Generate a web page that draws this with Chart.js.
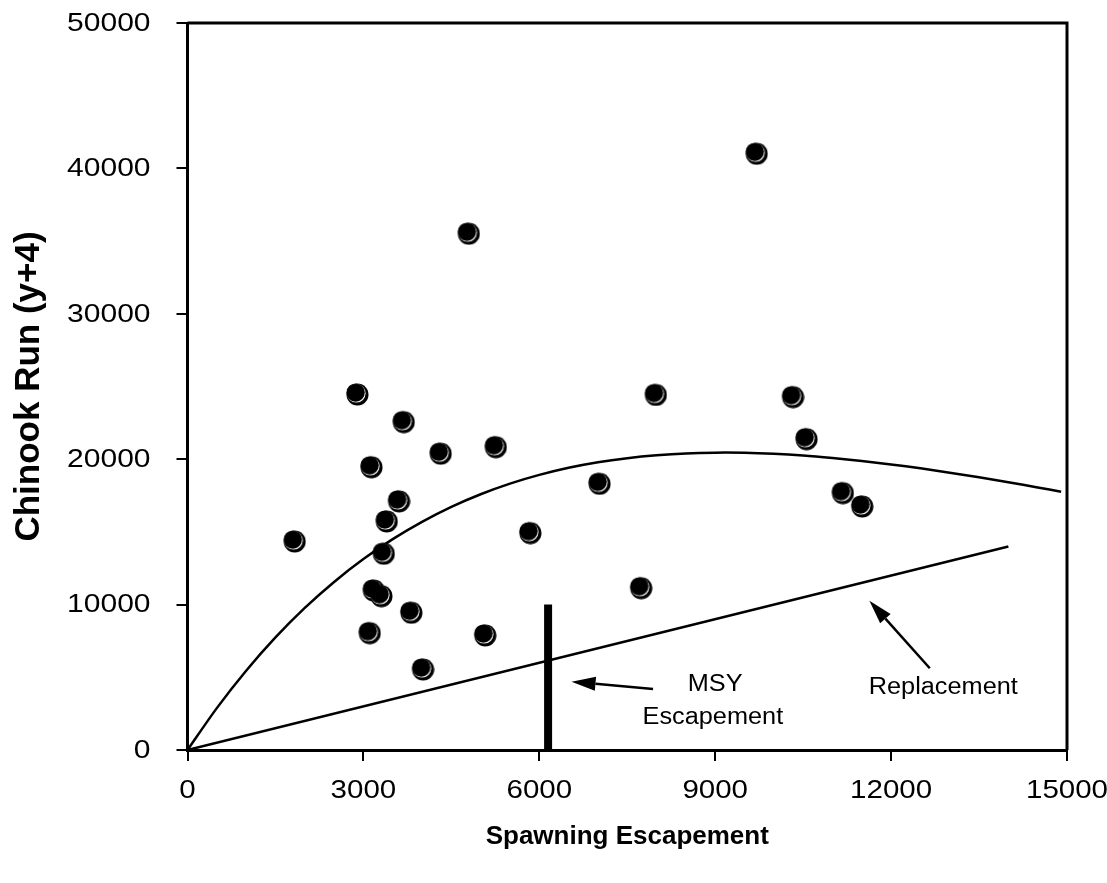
<!DOCTYPE html>
<html>
<head>
<meta charset="utf-8">
<script src="https://cdn.jsdelivr.net/npm/chart.js@4.4.1/dist/chart.umd.min.js"></script>
<style>
  html, body { margin: 0; padding: 0; background: #fff; }
  #wrap { width: 1107px; height: 883px; }
</style>
</head>
<body>
<div id="wrap"><canvas id="srChart" width="1107" height="883"></canvas></div>
<script>
// observed brood years: spawning escapement vs. chinook run four years later
const escapement = [1820, 2890, 3130, 3170, 3300, 3340, 3390, 3600, 3680, 3100, 3810, 4010, 4310,
  4790, 5070, 5250, 5840, 7020, 7730, 7980, 9700, 10320, 10550, 11170, 11500];
const runSize = [14370, 24480, 19480, 11000, 10610, 13530, 15750, 17130, 22580, 8070, 9470, 5570, 20410,
  35540, 7910, 20860, 14950, 18340, 11160, 24450, 41040, 24300, 21410, 17700, 16780];

// fitted recruitment curve
const curveEsc = [0, 500, 1000, 1500, 2000, 2500, 3000, 3500, 4000, 4500, 5000, 5500, 6000, 6500, 7000,
  7500, 8000, 8500, 9000, 9500, 10000, 10500, 11000, 11500, 12000, 12500, 13000, 13500, 14000, 14500, 14900];
const curveRun = [0, 2880, 5450, 7740, 9770, 11560, 13130, 14500, 15690, 16720, 17590, 18320, 18920, 19410, 19790,
  20070, 20270, 20400, 20450, 20440, 20370, 20250, 20080, 19880, 19640, 19370, 19070, 18760, 18410, 18060, 17760];

// replacement line and MSY escapement marker
const replacementEsc = [0, 14000];
const replacementRun = [0, 14000];
const msyEscapement = 6150;
const msyBarTop = 10000;

const xTicks = [0, 3000, 6000, 9000, 12000, 15000];
const yTicks = [0, 10000, 20000, 30000, 40000, 50000];

const toPoints = (xs, ys) => xs.map((x, i) => ({ x: x, y: ys[i] }));

// black ball with a white crescent, like the original symbol
const ball = document.createElement("canvas");
ball.width = 24;
ball.height = 24;
(function () {
  const c = ball.getContext("2d");
  c.fillStyle = "#000";
  c.beginPath(); c.arc(12.5, 12.5, 11, 0, Math.PI * 2); c.fill();
  c.fillStyle = "#fff";
  c.beginPath(); c.arc(11.3, 11.3, 9.3, 0, Math.PI * 2); c.fill();
  c.fillStyle = "#000";
  c.beginPath(); c.arc(10.6, 10.6, 9.2, 0, Math.PI * 2); c.fill();
})();

const notes = [
  { from: [7940, 4200], to: [6550, 4700] },
  { from: [12660, 5620], to: [11630, 10270] }
];
const labels = [
  { text: "MSY", at: [9000, 4470] },
  { text: "Escapement", at: [8960, 2200] },
  { text: "Replacement", at: [12890, 4260] }
];

const FONT = "'Liberation Sans', Arial, sans-serif";

// the original lettering is a little wider than it is tall
function wideText(ctx, text, x, y, size, stretch, align) {
  ctx.save();
  ctx.font = size + "px " + FONT;
  ctx.textAlign = align;
  ctx.textBaseline = "middle";
  ctx.translate(x, y);
  ctx.scale(stretch, 1);
  ctx.fillText(text, 0, 0);
  ctx.restore();
}

const notePlugin = {
  id: "notes",
  afterDatasetsDraw(chart) {
    const { ctx, scales: { x, y }, chartArea } = chart;
    ctx.save();
    // top and right frame
    ctx.strokeStyle = "#000";
    ctx.lineWidth = 3;
    ctx.beginPath();
    ctx.moveTo(chartArea.left, chartArea.top);
    ctx.lineTo(chartArea.right, chartArea.top);
    ctx.lineTo(chartArea.right, chartArea.bottom);
    ctx.stroke();

    ctx.fillStyle = "#000";
    ctx.lineWidth = 2.5;
    notes.forEach(n => {
      const x1 = x.getPixelForValue(n.from[0]), y1 = y.getPixelForValue(n.from[1]);
      const x2 = x.getPixelForValue(n.to[0]), y2 = y.getPixelForValue(n.to[1]);
      const a = Math.atan2(y2 - y1, x2 - x1);
      const len = 24, half = 7;
      const bx = x2 - len * Math.cos(a), by = y2 - len * Math.sin(a);
      ctx.beginPath(); ctx.moveTo(x1, y1); ctx.lineTo(bx, by); ctx.stroke();
      ctx.beginPath();
      ctx.moveTo(x2, y2);
      ctx.lineTo(bx + half * Math.sin(a), by - half * Math.cos(a));
      ctx.lineTo(bx - half * Math.sin(a), by + half * Math.cos(a));
      ctx.closePath();
      ctx.fill();
    });

    labels.forEach(l => {
      wideText(ctx, l.text, x.getPixelForValue(l.at[0]), y.getPixelForValue(l.at[1]), 23, 1.1, "center");
    });

    // tick labels, placed from the scales' own ticks
    x.ticks.forEach(t => {
      wideText(ctx, String(t.value), x.getPixelForValue(t.value), chartArea.bottom + 41, 25, 1.18, "center");
    });
    y.ticks.forEach(t => {
      wideText(ctx, String(t.value), chartArea.left - 37, y.getPixelForValue(t.value) + 1, 25, 1.2, "right");
    });
    ctx.restore();
  }
};

const titleFont = { family: FONT, size: 26, weight: "bold" };

new Chart(document.getElementById("srChart"), {
  type: "scatter",
  data: {
    datasets: [
      {
        label: "Observed",
        data: toPoints(escapement, runSize),
        pointStyle: ball,
        pointRadius: 12,
        pointHoverRadius: 12,
        order: 0
      },
      {
        type: "line",
        label: "Ricker curve",
        data: toPoints(curveEsc, curveRun),
        borderColor: "#000",
        borderWidth: 2.5,
        pointRadius: 0,
        tension: 0.3,
        fill: false,
        order: 1
      },
      {
        type: "line",
        label: "Replacement",
        data: toPoints(replacementEsc, replacementRun),
        borderColor: "#000",
        borderWidth: 2.5,
        pointRadius: 0,
        fill: false,
        order: 2
      },
      {
        type: "line",
        label: "MSY Escapement",
        data: toPoints([msyEscapement, msyEscapement], [0, msyBarTop]),
        borderColor: "#000",
        borderWidth: 8,
        borderCapStyle: "butt",
        pointRadius: 0,
        fill: false,
        order: 3
      }
    ]
  },
  options: {
    responsive: false,
    animation: false,
    layout: { padding: { left: 0, right: 40, top: 23, bottom: 0 } },
    plugins: {
      legend: { display: false },
      tooltip: { enabled: false }
    },
    scales: {
      x: {
        type: "linear",
        min: 0,
        max: 15000,
        afterBuildTicks: s => { s.ticks = xTicks.map(v => ({ value: v })); },
        afterFit: s => { s.height = 133; },
        ticks: { display: false },
        grid: { display: true, drawOnChartArea: false, color: "#000", lineWidth: 2, tickLength: 11 },
        border: { display: true, color: "#000", width: 3 },
        title: { display: true, text: "Spawning Escapement", color: "#000", font: titleFont, padding: { top: 0, bottom: 31 } }
      },
      y: {
        type: "linear",
        min: 0,
        max: 50000,
        afterBuildTicks: s => { s.ticks = yTicks.map(v => ({ value: v })); },
        afterFit: s => { s.width = 187.5; },
        ticks: { display: false },
        grid: { display: true, drawOnChartArea: false, color: "#000", lineWidth: 2, tickLength: 11 },
        border: { display: true, color: "#000", width: 3 },
        title: { display: true, text: "Chinook Run (y+4)", color: "#000", font: { family: FONT, size: 35, weight: "bold" }, padding: { top: 8, bottom: 0 } }
      }
    }
  },
  plugins: [notePlugin]
});
</script>
</body>
</html>
